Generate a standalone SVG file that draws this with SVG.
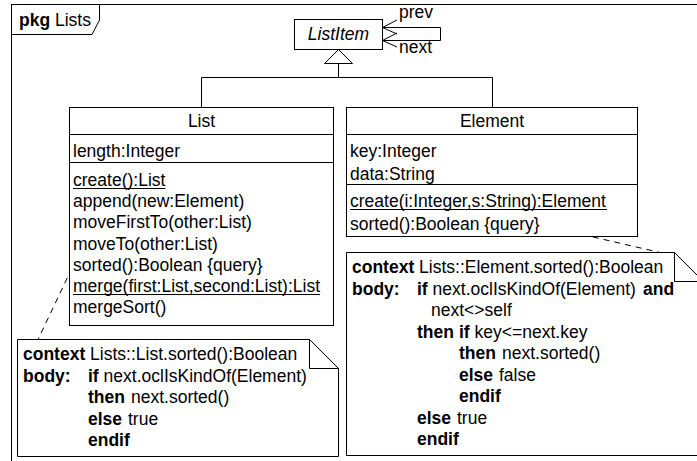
<svg xmlns="http://www.w3.org/2000/svg" width="697" height="461" viewBox="0 0 697 461">
<style>
.t{font-family:"Liberation Sans",Arial,sans-serif;font-size:17.5px;fill:#000}
.b{font-weight:bold}
.i{font-style:italic}
.m{text-anchor:middle}
.box{fill:#fff;stroke:#000;stroke-width:1}
.ln{fill:none;stroke:#000;stroke-width:1}
.dash{stroke-dasharray:6 5}
</style>
<rect x="0" y="0" width="697" height="461" fill="#fff"/>
<g id="frame">
<rect x="11.5" y="4.5" width="700" height="470" class="ln"/>
<path d="M11.5,34.5 H92 L99.5,20 V4.5" class="ln"/>
<text class="t" x="19" y="26"><tspan class="b">pkg</tspan> Lists</text>
</g>
<g id="connectors">
<path d="M382.5,27.5 H440.5 V40.5 H382.5" class="ln"/>
<path d="M397,20 L382.5,27.5 L397,34" class="ln"/>
<path d="M397,33 L382.5,40.5 L397,47" class="ln"/>
<path d="M338.5,63.5 V77.5 M201.5,77.5 H492.5 M201.5,77.5 V107.5 M492.5,77.5 V107.5" class="ln"/>
<path d="M338.5,49.5 L324.5,63.5 L352.5,63.5 Z" class="box"/>
<path d="M72,268 L38,339.5" class="ln dash"/>
<path d="M550,227 L660,252.5" class="ln dash"/>
<text class="t" x="399" y="18">prev</text>
<text class="t" x="399" y="53">next</text>
</g>
<g id="ListItem">
<rect x="294.5" y="19.5" width="88" height="30" class="box"/>
<text class="t i m" x="338.5" y="40">ListItem</text>
</g>
<g id="List">
<rect x="69.5" y="107.5" width="264" height="218" class="box"/>
<path d="M69.5,134.5 H333.5 M69.5,162.5 H333.5" class="ln"/>
<text class="t m" x="201.5" y="127">List</text>
<text class="t" x="73" y="157">length:Integer</text>
<text class="t" x="73" y="186">create():List</text>
<path d="M73,188.5 H165.5" class="ln"/>
<text class="t" x="73" y="207.2">append(new:Element)</text>
<text class="t" x="73" y="228.4">moveFirstTo(other:List)</text>
<text class="t" x="73" y="249.6">moveTo(other:List)</text>
<text class="t" x="73" y="270.8">sorted():Boolean {query}</text>
<text class="t" x="73" y="292">merge(first:List,second:List):List</text>
<path d="M73,294.5 H320" class="ln"/>
<text class="t" x="73" y="313.2">mergeSort()</text>
</g>
<g id="Element">
<rect x="346.5" y="107.5" width="291" height="129" class="box"/>
<path d="M346.5,134.5 H637.5 M346.5,184.5 H637.5" class="ln"/>
<text class="t m" x="492" y="127">Element</text>
<text class="t" x="350" y="157">key:Integer</text>
<text class="t" x="350" y="179.5">data:String</text>
<text class="t" x="350" y="207">create(i:Integer,s:String):Element</text>
<path d="M350,209.5 H607" class="ln"/>
<text class="t" x="350" y="229.5">sorted():Boolean {query}</text>
</g>
<g id="note-list">
<path d="M17.5,339.5 H309.5 L338.5,368.5 V456.5 H17.5 Z" class="box"/>
<path d="M309.5,339.5 V368.5 H338.5" class="ln"/>
<text class="t" x="23" y="360"><tspan class="b">context</tspan> Lists::List.sorted():Boolean</text>
<text class="t b" x="23" y="381.5">body:</text>
<text class="t" x="88" y="381.5"><tspan class="b">if</tspan> next.oclIsKindOf(Element)</text>
<text class="t b" x="88" y="403">then</text>
<text class="t" x="131" y="403">next.sorted()</text>
<text class="t b" x="88" y="424.5">else</text>
<text class="t" x="128" y="424.5">true</text>
<text class="t b" x="88" y="446">endif</text>
</g>
<g id="note-element">
<path d="M346.5,252.5 H674.5 L703.5,281.5 V455.5 H346.5 Z" class="box"/>
<path d="M674.5,252.5 V281.5 H703.5" class="ln"/>
<text class="t" x="352" y="273"><tspan class="b">context</tspan> Lists::Element.sorted():Boolean</text>
<text class="t b" x="352" y="294.5">body:</text>
<text class="t" x="417" y="294.5"><tspan class="b">if</tspan> next.oclIsKindOf(Element)</text>
<text class="t b" x="643" y="294.5">and</text>
<text class="t" x="431" y="316">next&lt;&gt;self</text>
<text class="t b" x="417" y="337.5">then</text>
<text class="t" x="459" y="337.5"><tspan class="b">if</tspan> key&lt;=next.key</text>
<text class="t b" x="459" y="359">then</text>
<text class="t" x="502" y="359">next.sorted()</text>
<text class="t b" x="459" y="380.5">else</text>
<text class="t" x="499" y="380.5">false</text>
<text class="t b" x="459" y="402">endif</text>
<text class="t b" x="417" y="423.5">else</text>
<text class="t" x="457" y="423.5">true</text>
<text class="t b" x="417" y="445">endif</text>
</g>
</svg>
